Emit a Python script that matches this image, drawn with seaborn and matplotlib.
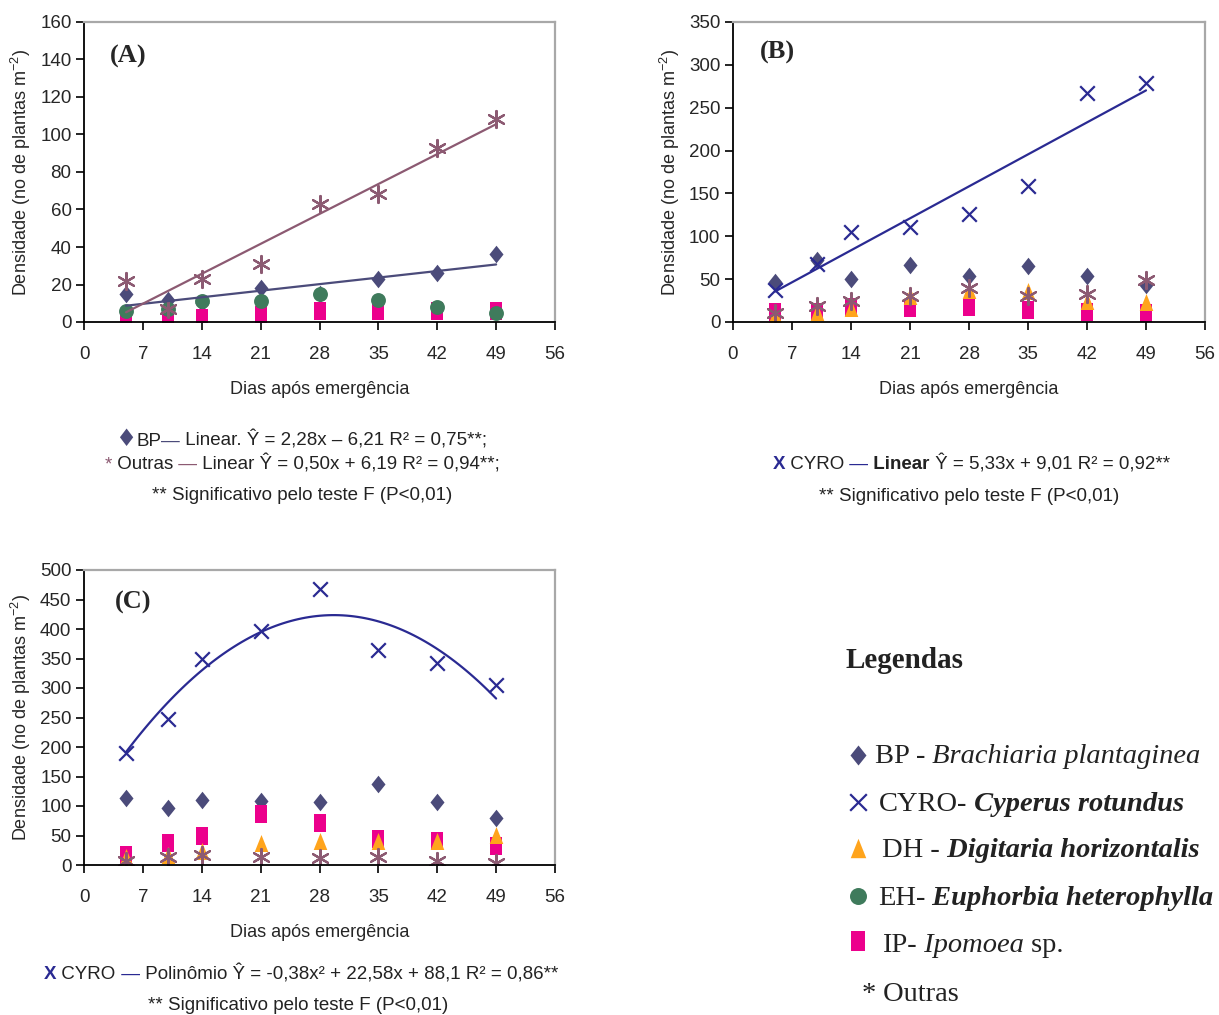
import numpy as np
import matplotlib
matplotlib.use('Agg')
import matplotlib.pyplot as plt
import seaborn as sns

sns.set_style('ticks')
plt.rcParams['font.family'] = ['Liberation Sans', 'DejaVu Sans']
plt.rcParams['mathtext.fontset'] = 'custom'
plt.rcParams['mathtext.rm'] = 'Liberation Sans'

dias = [5, 10, 14, 21, 28, 35, 42, 49]

# (A)
a_bp = [15, 12, 10, 18, 15, 23, 26, 36]
a_eh = [6, 7, 11, 11, 15, 12, 8, 5]
a_ip = [1, 3, 2, 4, 6, 6, 6, 6]
a_outras = [22, 7, 23, 31, 63, 68, 93, 108]
# (B)
b_cyro = [37, 68, 105, 111, 126, 159, 267, 279]
b_bp = [47, 72, 50, 66, 54, 65, 54, 43]
b_dh = [8, 12, 16, 30, 37, 36, 25, 23]
b_ip = [12, 12, 17, 16, 17, 14, 12, 10]
b_outras = [10, 19, 25, 30, 40, 30, 33, 49]
# (C)
c_cyro = [189, 247, 350, 397, 467, 364, 343, 305]
c_bp = [114, 96, 110, 109, 107, 137, 107, 80]
c_dh = [14, 17, 23, 37, 40, 40, 40, 51]
c_ip = [17, 38, 49, 86, 71, 44, 40, 32]
c_outras = [6, 14, 17, 14, 12, 13, 6, 3]

# coeficientes das curvas ajustadas (maior grau primeiro)
a_fit_bp = [0.50, 6.19]
a_fit_outras = [2.28, -6.21]
b_fit_cyro = [5.33, 9.01]
c_fit_cyro = [-0.38, 22.58, 88.1]

cores = {'BP': '#4B4B7A', 'CYRO': '#2A2A92', 'DH': '#FFA41C',
         'EH': '#3F7B5C', 'IP': '#EC008C', 'Outras': '#8C5A72'}

diamante = [(0, 1), (0.8, 0), (0, -1), (-0.8, 0)]
retangulo = [(-0.38, -0.5), (0.38, -0.5), (0.38, 0.5), (-0.38, 0.5)]
triangulo = [(0, 0.5), (-0.4, -0.5), (0.4, -0.5)]
estilos = {
    'BP': dict(marker=diamante, s=160, linewidth=0),
    'IP': dict(marker=retangulo, s=150, linewidth=0),
    'DH': dict(marker=triangulo, s=150, linewidth=0),
    'EH': dict(marker='o', s=115, linewidth=0),
    'Outras': dict(marker=(6, 2, 0), s=150, linewidth=1.6),
    'CYRO': dict(marker='x', s=110, linewidth=1.6),
}

W, H = 1219, 1015
fig = plt.figure(figsize=(W / 100, H / 100), dpi=100)


def eixo(l, t, r, b):
    return fig.add_axes([l / W, 1 - b / H, (r - l) / W, (b - t) / H])


def pontos(ax, y, esp):
    sns.scatterplot(x=dias, y=y, ax=ax, color=cores[esp], legend=False,
                    **estilos[esp])


def curva(ax, coef, esp):
    xs = np.linspace(dias[0], dias[-1], 100)
    sns.lineplot(x=xs, y=np.polyval(coef, xs), ax=ax, color=cores[esp],
                 linewidth=1.6, legend=False)


def formata(ax, ymax, ystep, letra, lx, ly):
    ax.set_xlim(0, 56)
    ax.set_ylim(0, ymax)
    ax.set_xticks(range(0, 57, 7))
    ax.set_yticks(range(0, ymax + 1, ystep))
    ax.tick_params(axis='both', direction='out', length=6, width=1.2,
                   color='black', labelsize=13.5)
    ax.tick_params(axis='x', pad=11)
    ax.tick_params(axis='y', pad=3)
    for s in ['top', 'right']:
        ax.spines[s].set_color('#A8A8A8')
        ax.spines[s].set_linewidth(1.6)
    for s in ['left', 'bottom']:
        ax.spines[s].set_color('black')
        ax.spines[s].set_linewidth(1.3)
    ax.set_xlabel('Dias após emergência', fontsize=13, labelpad=13)
    ax.set_ylabel('Densidade (no de plantas m$^{\\mathregular{-2}}$)',
                  fontsize=13, labelpad=5)
    ax.text(lx, ly, letra, transform=ax.transAxes, fontsize=19,
            fontweight='bold', family='Liberation Serif', va='center')


def linha(x, y, partes, ha='center'):
    textos = [fig.text(0, 1 - y / H, s, va='baseline', **kw) for s, kw in partes]
    r = fig.canvas.get_renderer()
    larg = [t.get_window_extent(r).width for t in textos]
    x0 = x - sum(larg) / 2 if ha == 'center' else x
    for t, w in zip(textos, larg):
        t.set_x(x0 / W)
        x0 += w


# Painel A
axA = eixo(84, 22, 555, 322)
pontos(axA, a_bp, 'BP')
pontos(axA, a_ip, 'IP')
pontos(axA, a_eh, 'EH')
pontos(axA, a_outras, 'Outras')
curva(axA, a_fit_bp, 'BP')
curva(axA, a_fit_outras, 'Outras')
formata(axA, 160, 20, '(A)', 0.055, 0.885)

# Painel B
axB = eixo(733, 22, 1205, 322)
pontos(axB, b_bp, 'BP')
pontos(axB, b_ip, 'IP')
pontos(axB, b_dh, 'DH')
pontos(axB, b_outras, 'Outras')
pontos(axB, b_cyro, 'CYRO')
curva(axB, b_fit_cyro, 'CYRO')
formata(axB, 350, 50, '(B)', 0.057, 0.897)

# Painel C
axC = eixo(84, 570, 555, 865)
pontos(axC, c_bp, 'BP')
pontos(axC, c_ip, 'IP')
pontos(axC, c_dh, 'DH')
pontos(axC, c_outras, 'Outras')
pontos(axC, c_cyro, 'CYRO')
curva(axC, c_fit_cyro, 'CYRO')
formata(axC, 500, 50, '(C)', 0.066, 0.89)

fs = 13.5
base = dict(fontsize=fs, color='#222222')
linha(301, 446, [('♦', dict(fontsize=17, color=cores['BP'], family='DejaVu Sans')),
                 ('BP', base),
                 ('—', dict(fontsize=fs, color=cores['BP'])),
                 (' Linear. Ŷ = 2,28x – 6,21 R² = 0,75**;', base)])
linha(302, 469, [('*', dict(fontsize=fs, color=cores['Outras'])),
                 (' Outras', base),
                 (' —', dict(fontsize=fs, color=cores['Outras'])),
                 (' Linear Ŷ = 0,50x + 6,19 R² = 0,94**;', base)])
linha(302, 500, [('** Significativo pelo teste F (P<0,01)', base)])

linha(971, 469, [('X', dict(fontsize=fs, color=cores['CYRO'], fontweight='bold')),
                 (' CYRO', base),
                 (' —', dict(fontsize=fs, color=cores['CYRO'])),
                 (' Linear', dict(fontsize=fs, color='#222222', fontweight='bold')),
                 (' Ŷ = 5,33x + 9,01 R² = 0,92**', base)])
linha(969, 501, [('** Significativo pelo teste F (P<0,01)', base)])

linha(301, 979, [('X', dict(fontsize=fs, color=cores['CYRO'], fontweight='bold')),
                 (' CYRO', base),
                 (' —', dict(fontsize=fs, color=cores['CYRO'])),
                 (' Polinômio Ŷ = -0,38x² + 22,58x + 88,1 R² = 0,86**', base)])
linha(298, 1010, [('** Significativo pelo teste F (P<0,01)', base)])

# Bloco de legendas
leg = fig.add_axes([0, 0, 1, 1])
leg.set_xlim(0, W)
leg.set_ylim(H, 0)
leg.axis('off')
fig.text(846 / W, 1 - 668 / H, 'Legendas', family='Liberation Serif',
         fontweight='bold', fontsize=21, color='#222222', va='baseline')

ordem = ['BP', 'CYRO', 'DH', 'EH', 'IP']
ys = [755, 802, 848, 896, 941]
for esp, yy in zip(ordem, ys):
    kw = dict(estilos[esp])
    kw['s'] = kw['s'] * 1.3
    sns.scatterplot(x=[858], y=[yy], ax=leg, color=cores[esp], legend=False, **kw)

serif = dict(family='Liberation Serif', fontsize=20.5, color='#222222')
it = dict(serif, style='italic')
bi = dict(serif, style='italic', fontweight='bold')
linha(875, 763, [('BP -', serif), (' Brachiaria plantaginea', it)], ha='left')
linha(879, 811, [('CYRO-', serif), (' Cyperus rotundus', bi)], ha='left')
linha(882, 857, [('DH -', serif), (' Digitaria horizontalis', bi)], ha='left')
linha(878, 905, [('EH-', serif), (' Euphorbia heterophylla', bi)], ha='left')
linha(882, 952, [('IP-', serif), (' Ipomoea', it), (' sp.', serif)], ha='left')
linha(862, 1001, [('*', serif), (' Outras', serif)], ha='left')

fig.savefig('out.png', dpi=100, facecolor='white')
